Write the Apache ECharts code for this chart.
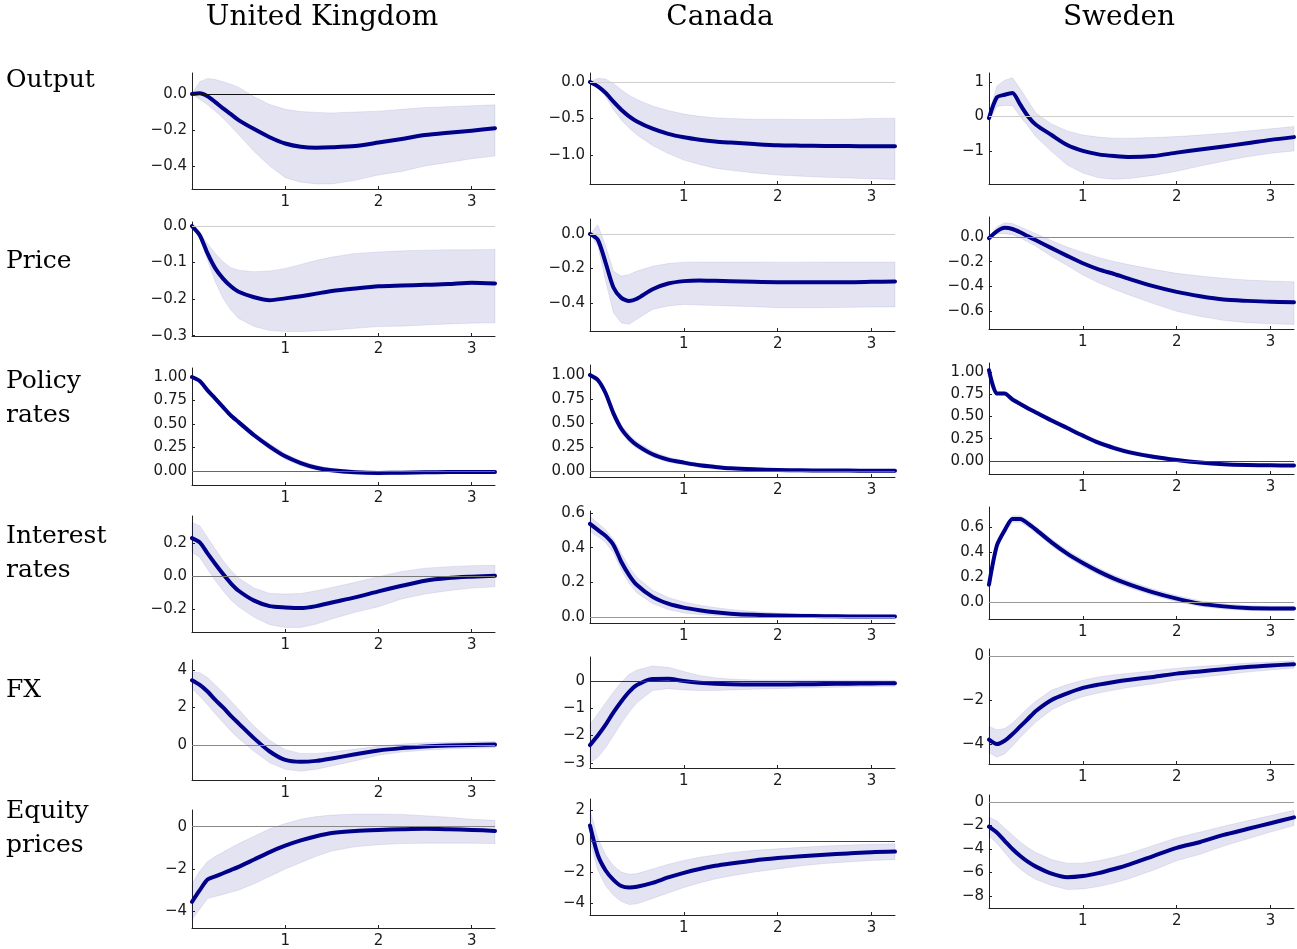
<!DOCTYPE html>
<html>
<head>
<meta charset="utf-8">
<script src="https://cdn.jsdelivr.net/npm/echarts@6/dist/echarts.min.js"></script>
<style>html,body{margin:0;padding:0;background:#fff}#c{width:1297px;height:949px}</style>
</head>
<body>
<div id="c"></div>
<script>
// ---------------- DATA ----------------
const countries = ['United Kingdom', 'Canada', 'Sweden'];
const variables = ['Output', 'Price', 'Policy\nrates', 'Interest\nrates', 'FX', 'Equity\nprices'];
const months = [0, 1, 2, 3, 4, 5, 6, 8, 10, 12, 14, 16, 18, 21, 24, 27, 30, 33, 36, 39];
const xTicks = [1, 2, 3];

// Output
const ukOutMid = [0, 0.005, -0.012, -0.045, -0.08, -0.112, -0.145, -0.195, -0.24, -0.275, -0.293, -0.298, -0.296, -0.289, -0.27, -0.25, -0.228, -0.215, -0.204, -0.19];
const ukOutHi  = [0, 0.069, 0.087, 0.081, 0.068, 0.054, 0.038, -0.015, -0.058, -0.085, -0.097, -0.102, -0.105, -0.1, -0.095, -0.085, -0.075, -0.07, -0.065, -0.06];
const ukOutLo  = [0, -0.03, -0.06, -0.095, -0.135, -0.18, -0.225, -0.32, -0.40, -0.465, -0.49, -0.5, -0.5, -0.48, -0.45, -0.43, -0.4, -0.38, -0.36, -0.345];
const caOutMid = [0, -0.06, -0.15, -0.27, -0.38, -0.47, -0.54, -0.64, -0.71, -0.757, -0.79, -0.815, -0.83, -0.85, -0.867, -0.872, -0.876, -0.878, -0.88, -0.88];
const caOutHi  = [0, 0.05, 0.04, -0.02, -0.105, -0.18, -0.24, -0.33, -0.39, -0.44, -0.47, -0.49, -0.5, -0.51, -0.51, -0.515, -0.515, -0.51, -0.5, -0.495];
const caOutLo  = [0, -0.08, -0.2, -0.38, -0.52, -0.63, -0.725, -0.87, -0.98, -1.07, -1.13, -1.18, -1.21, -1.245, -1.275, -1.29, -1.305, -1.315, -1.325, -1.335];
const seOutMid = [-0.05, 0.55, 0.63, 0.68, 0.34, 0.0, -0.24, -0.54, -0.83, -1.0, -1.1, -1.15, -1.18, -1.15, -1.05, -0.96, -0.87, -0.78, -0.68, -0.6];
const seOutHi  = [0.1, 0.88, 1.05, 1.12, 0.8, 0.45, 0.1, -0.22, -0.42, -0.54, -0.6, -0.63, -0.63, -0.61, -0.585, -0.54, -0.49, -0.42, -0.36, -0.29];
const seOutLo  = [-0.15, 0.29, 0.32, 0.31, 0.0, -0.29, -0.59, -1.02, -1.41, -1.64, -1.78, -1.82, -1.8, -1.71, -1.59, -1.44, -1.3, -1.17, -1.07, -1.0];

// Price
const ukPriMid = [0, -0.025, -0.075, -0.116, -0.144, -0.165, -0.18, -0.195, -0.203, -0.198, -0.192, -0.185, -0.178, -0.171, -0.165, -0.163, -0.161, -0.159, -0.155, -0.157];
const ukPriHi  = [0, -0.02, -0.048, -0.075, -0.098, -0.114, -0.121, -0.125, -0.123, -0.116, -0.105, -0.094, -0.085, -0.075, -0.071, -0.068, -0.066, -0.065, -0.065, -0.064];
const ukPriLo  = [0, -0.035, -0.094, -0.153, -0.198, -0.23, -0.253, -0.275, -0.286, -0.289, -0.289, -0.287, -0.285, -0.28, -0.275, -0.274, -0.271, -0.268, -0.266, -0.265];
const caPriMid = [0, -0.033, -0.167, -0.31, -0.37, -0.388, -0.375, -0.32, -0.287, -0.273, -0.269, -0.271, -0.273, -0.277, -0.279, -0.279, -0.279, -0.279, -0.277, -0.275];
const caPriHi  = [0, 0.054, -0.07, -0.215, -0.244, -0.235, -0.215, -0.187, -0.171, -0.163, -0.162, -0.162, -0.162, -0.162, -0.163, -0.163, -0.162, -0.162, -0.162, -0.162];
const caPriLo  = [0, -0.07, -0.273, -0.456, -0.515, -0.523, -0.494, -0.437, -0.417, -0.408, -0.412, -0.414, -0.417, -0.421, -0.427, -0.427, -0.427, -0.425, -0.423, -0.423];
const sePriMid = [-0.01, 0.046, 0.074, 0.065, 0.038, 0.005, -0.027, -0.09, -0.153, -0.213, -0.262, -0.3, -0.341, -0.398, -0.445, -0.48, -0.507, -0.518, -0.526, -0.529];
const sePriHi  = [0.0, 0.082, 0.115, 0.109, 0.082, 0.055, 0.027, -0.03, -0.082, -0.125, -0.166, -0.199, -0.226, -0.262, -0.295, -0.316, -0.335, -0.349, -0.357, -0.363];
const sePriLo  = [-0.02, 0.027, 0.027, 0.019, -0.008, -0.041, -0.076, -0.158, -0.232, -0.308, -0.371, -0.423, -0.472, -0.54, -0.603, -0.644, -0.676, -0.695, -0.704, -0.709];

// Policy rates
const ukPolMid = [1.0, 0.957, 0.858, 0.77, 0.68, 0.59, 0.52, 0.38, 0.26, 0.156, 0.085, 0.035, 0.007, -0.014, -0.021, -0.018, -0.014, -0.011, -0.011, -0.011];
const ukPolHi  = [1.01, 0.975, 0.88, 0.79, 0.70, 0.615, 0.545, 0.405, 0.29, 0.185, 0.11, 0.058, 0.028, 0.006, -0.002, 0.0, 0.002, 0.004, 0.005, 0.006];
const ukPolLo  = [0.99, 0.94, 0.835, 0.745, 0.655, 0.565, 0.495, 0.355, 0.23, 0.125, 0.055, 0.01, -0.015, -0.035, -0.04, -0.038, -0.033, -0.028, -0.027, -0.027];
const caPolMid = [1.0, 0.948, 0.81, 0.6, 0.44, 0.34, 0.27, 0.174, 0.118, 0.087, 0.059, 0.042, 0.028, 0.017, 0.01, 0.007, 0.005, 0.004, 0.003, 0.003];
const caPolHi  = [1.02, 0.97, 0.84, 0.64, 0.48, 0.38, 0.305, 0.205, 0.145, 0.11, 0.08, 0.06, 0.043, 0.03, 0.02, 0.015, 0.012, 0.01, 0.009, 0.008];
const caPolLo  = [0.98, 0.925, 0.78, 0.56, 0.4, 0.3, 0.235, 0.145, 0.092, 0.065, 0.04, 0.026, 0.015, 0.006, 0.002, 0.0, -0.002, -0.002, -0.002, -0.002];
const sePolMid = [1.02, 0.757, 0.757, 0.69, 0.64, 0.59, 0.545, 0.455, 0.37, 0.285, 0.205, 0.145, 0.097, 0.047, 0.01, -0.018, -0.036, -0.045, -0.049, -0.05];
const sePolHi  = [1.04, 0.775, 0.775, 0.71, 0.66, 0.612, 0.568, 0.48, 0.395, 0.31, 0.23, 0.17, 0.12, 0.068, 0.028, -0.002, -0.022, -0.032, -0.037, -0.038];
const sePolLo  = [1.0, 0.74, 0.74, 0.67, 0.62, 0.568, 0.522, 0.43, 0.345, 0.26, 0.18, 0.12, 0.074, 0.026, -0.008, -0.034, -0.05, -0.058, -0.061, -0.062];

// Interest rates
const ukIntMid = [0.23, 0.204, 0.137, 0.073, 0.012, -0.044, -0.089, -0.149, -0.182, -0.19, -0.194, -0.182, -0.16, -0.129, -0.093, -0.059, -0.028, -0.012, -0.004, 0.002];
const ukIntHi  = [0.325, 0.305, 0.234, 0.164, 0.093, 0.036, -0.012, -0.073, -0.105, -0.109, -0.105, -0.089, -0.069, -0.038, -0.004, 0.028, 0.048, 0.057, 0.063, 0.065];
const ukIntLo  = [0.143, 0.113, 0.042, -0.028, -0.089, -0.145, -0.186, -0.25, -0.295, -0.311, -0.311, -0.291, -0.26, -0.22, -0.186, -0.139, -0.109, -0.089, -0.073, -0.065];
const caIntMid = [0.538, 0.503, 0.468, 0.416, 0.319, 0.242, 0.184, 0.116, 0.077, 0.054, 0.039, 0.027, 0.019, 0.012, 0.008, 0.006, 0.004, 0.003, 0.002, 0.002];
const caIntHi  = [0.58, 0.542, 0.503, 0.449, 0.368, 0.29, 0.228, 0.155, 0.112, 0.087, 0.068, 0.054, 0.043, 0.031, 0.023, 0.019, 0.015, 0.014, 0.012, 0.012];
const caIntLo  = [0.494, 0.464, 0.43, 0.368, 0.271, 0.194, 0.139, 0.077, 0.043, 0.023, 0.014, 0.008, 0.004, 0.001, 0.0, -0.001, -0.001, -0.002, -0.002, -0.002];
const seIntMid = [0.139, 0.45, 0.573, 0.664, 0.664, 0.627, 0.579, 0.477, 0.387, 0.312, 0.245, 0.187, 0.139, 0.077, 0.027, -0.013, -0.035, -0.048, -0.051, -0.051];
const seIntHi  = [0.16, 0.475, 0.6, 0.69, 0.69, 0.655, 0.605, 0.505, 0.415, 0.34, 0.273, 0.215, 0.166, 0.103, 0.052, 0.01, -0.014, -0.028, -0.033, -0.034];
const seIntLo  = [0.12, 0.425, 0.548, 0.638, 0.638, 0.6, 0.552, 0.45, 0.36, 0.285, 0.218, 0.16, 0.113, 0.052, 0.003, -0.035, -0.056, -0.068, -0.07, -0.07];

// FX
const ukFxMid = [3.45, 3.2, 2.85, 2.4, 2.0, 1.55, 1.15, 0.35, -0.35, -0.8, -0.9, -0.85, -0.72, -0.5, -0.3, -0.17, -0.08, -0.03, 0.0, 0.02];
const ukFxHi  = [3.9, 3.85, 3.6, 3.2, 2.8, 2.35, 1.9, 1.0, 0.25, -0.25, -0.45, -0.45, -0.38, -0.22, -0.07, 0.05, 0.12, 0.15, 0.17, 0.18];
const ukFxLo  = [3.0, 2.6, 2.15, 1.65, 1.2, 0.75, 0.35, -0.35, -0.95, -1.3, -1.4, -1.3, -1.12, -0.85, -0.55, -0.38, -0.28, -0.22, -0.18, -0.15];
const caFxMid = [-2.35, -2.0, -1.6, -1.15, -0.75, -0.4, -0.15, 0.07, 0.08, 0.0, -0.06, -0.1, -0.12, -0.13, -0.13, -0.12, -0.11, -0.1, -0.09, -0.08];
const caFxHi  = [-1.6, -1.2, -0.8, -0.4, -0.05, 0.25, 0.4, 0.55, 0.5, 0.35, 0.2, 0.12, 0.07, 0.04, 0.03, 0.03, 0.03, 0.03, 0.03, 0.03];
const caFxLo  = [-3.0, -2.8, -2.45, -2.0, -1.55, -1.15, -0.8, -0.35, -0.28, -0.33, -0.35, -0.35, -0.33, -0.3, -0.28, -0.26, -0.24, -0.22, -0.2, -0.19];
const seFxMid = [-3.8, -4.0, -3.85, -3.55, -3.2, -2.85, -2.5, -2.0, -1.7, -1.45, -1.3, -1.18, -1.08, -0.95, -0.8, -0.7, -0.6, -0.5, -0.43, -0.37];
const seFxHi  = [-3.2, -3.35, -3.3, -3.05, -2.7, -2.35, -2.05, -1.55, -1.3, -1.1, -0.95, -0.85, -0.78, -0.67, -0.55, -0.47, -0.4, -0.32, -0.27, -0.22];
const seFxLo  = [-4.4, -4.6, -4.45, -4.1, -3.7, -3.35, -3.0, -2.45, -2.1, -1.85, -1.68, -1.55, -1.42, -1.27, -1.1, -0.97, -0.85, -0.73, -0.63, -0.55];

// Equity prices
const ukEqMid = [-3.55, -3.0, -2.5, -2.35, -2.2, -2.05, -1.9, -1.55, -1.2, -0.9, -0.65, -0.45, -0.3, -0.2, -0.15, -0.12, -0.1, -0.12, -0.15, -0.2];
const ukEqHi  = [-2.7, -2.1, -1.65, -1.4, -1.2, -1.0, -0.8, -0.45, -0.1, 0.15, 0.35, 0.48, 0.55, 0.6, 0.6, 0.58, 0.52, 0.45, 0.35, 0.3];
const ukEqLo  = [-4.4, -3.9, -3.4, -3.3, -3.2, -3.1, -3.0, -2.7, -2.35, -2.0, -1.7, -1.4, -1.15, -0.95, -0.85, -0.8, -0.78, -0.78, -0.78, -0.8];
const caEqMid = [1.0, -0.9, -1.9, -2.5, -2.9, -3.0, -2.95, -2.7, -2.35, -2.05, -1.8, -1.6, -1.45, -1.25, -1.1, -0.98, -0.88, -0.8, -0.72, -0.68];
const caEqHi  = [2.0, 0.2, -0.9, -1.6, -2.0, -2.15, -2.1, -1.8, -1.5, -1.25, -1.05, -0.9, -0.75, -0.6, -0.5, -0.4, -0.32, -0.26, -0.2, -0.18];
const caEqLo  = [0.0, -1.9, -2.9, -3.5, -3.9, -4.1, -4.05, -3.7, -3.35, -3.0, -2.7, -2.45, -2.25, -2.0, -1.8, -1.6, -1.45, -1.35, -1.25, -1.2];
const seEqMid = [-2.1, -2.6, -3.3, -4.0, -4.6, -5.1, -5.5, -6.1, -6.4, -6.3, -6.05, -5.7, -5.3, -4.6, -3.9, -3.4, -2.8, -2.3, -1.8, -1.3];
const seEqHi  = [-1.3, -1.6, -2.2, -2.8, -3.4, -3.9, -4.3, -4.9, -5.2, -5.2, -5.0, -4.7, -4.35, -3.7, -3.05, -2.55, -2.05, -1.6, -1.15, -0.7];
const seEqLo  = [-2.9, -3.5, -4.3, -5.1, -5.7, -6.2, -6.6, -7.1, -7.45, -7.4, -7.2, -6.9, -6.5, -5.8, -5.0, -4.45, -3.75, -3.15, -2.55, -2.0];

// y tick labels per panel
const ukOutTicks = [-0.4, -0.2, 0.0], caOutTicks = [-1.0, -0.5, 0.0], seOutTicks = [-1, 0, 1];
const ukPriTicks = [-0.3, -0.2, -0.1, 0.0], caPriTicks = [-0.4, -0.2, 0.0], sePriTicks = [-0.6, -0.4, -0.2, 0.0];
const polTicks = [0, 0.25, 0.5, 0.75, 1.0];
const ukIntTicks = [-0.2, 0.0, 0.2], caIntTicks = [0.0, 0.2, 0.4, 0.6], seIntTicks = [0.0, 0.2, 0.4, 0.6];
const ukFxTicks = [0, 2, 4], caFxTicks = [-3, -2, -1, 0], seFxTicks = [-4, -2, 0];
const ukEqTicks = [-4, -2, 0], caEqTicks = [-4, -2, 0, 2], seEqTicks = [-8, -6, -4, -2, 0];

// ---------------- LAYOUT / STYLE ----------------
const years = months.map(m => m / 12);
const colLeft = [192, 590, 989];
const colWidth = [303, 305, 305];
const rowBounds = [
  [[73, 189], [73, 184], [73, 184]],
  [[222, 336], [219, 331], [217, 329]],
  [[368, 485], [365, 477], [363, 474]],
  [[516, 632], [511, 623], [507, 619]],
  [[660, 780], [657, 768], [649, 764]],
  [[810, 930], [799, 915], [795, 908]]
];
// [mid, hi, lo, ticks, decimals, ymin, ymax, zeroColor]
const panels = [
  [[ukOutMid, ukOutHi, ukOutLo, ukOutTicks, 1, -0.528, 0.117, '#111'],
   [caOutMid, caOutHi, caOutLo, caOutTicks, 1, -1.397, 0.123, '#cfcfcf'],
   [seOutMid, seOutHi, seOutLo, seOutTicks, 0, -1.96, 1.26, '#cfcfcf']],
  [[ukPriMid, ukPriHi, ukPriLo, ukPriTicks, 1, -0.301, 0.011, '#cfcfcf'],
   [caPriMid, caPriHi, caPriLo, caPriTicks, 1, -0.562, 0.087, '#cfcfcf'],
   [sePriMid, sePriHi, sePriLo, sePriTicks, 1, -0.746, 0.162, '#888']],
  [[ukPolMid, ukPolHi, ukPolLo, polTicks, 2, -0.149, 1.096, '#666'],
   [caPolMid, caPolHi, caPolLo, polTicks, 2, -0.0625, 1.104, '#666'],
   [sePolMid, sePolHi, sePolLo, polTicks, 2, -0.146, 1.10, '#444']],
  [[ukIntMid, ukIntHi, ukIntLo, ukIntTicks, 1, -0.339, 0.364, '#777'],
   [caIntMid, caIntHi, caIntLo, caIntTicks, 1, -0.035, 0.612, '#999'],
   [seIntMid, seIntHi, seIntLo, seIntTicks, 1, -0.136, 0.76, '#999']],
  [[ukFxMid, ukFxHi, ukFxLo, ukFxTicks, 0, -1.87, 4.53, '#888'],
   [caFxMid, caFxHi, caFxLo, caFxTicks, 0, -3.19, 0.88, '#333'],
   [seFxMid, seFxHi, seFxLo, seFxTicks, 0, -4.91, 0.32, '#999']],
  [[ukEqMid, ukEqHi, ukEqLo, ukEqTicks, 0, -4.79, 0.79, '#888'],
   [caEqMid, caEqHi, caEqLo, caEqTicks, 0, -4.77, 2.71, '#444'],
   [seEqMid, seEqHi, seEqLo, seEqTicks, 0, -9.02, 0.6, '#999']]
];

const fmt = (v, d) => v.toFixed(d).replace('-', '\u2212');
const grids = [], xAxes = [], yAxes = [], series = [];
let k = 0;
panels.forEach((row, r) => {
  row.forEach((p, c) => {
    const [mid, hi, lo, ticks, dec, ymin, ymax, zc] = p;
    const [top, bot] = rowBounds[r][c];
    grids.push({ left: colLeft[c], top: top, width: colWidth[c], height: bot - top });
    xAxes.push({
      type: 'value', gridIndex: k, min: 0, max: 3.25,
      axisLine: { show: true, onZero: false, lineStyle: { color: '#222', width: 1 } },
      axisTick: { show: true, inside: true, length: 3, customValues: xTicks, lineStyle: { color: '#222' } },
      axisLabel: { customValues: xTicks, formatter: v => String(Math.round(v)), fontFamily: 'DejaVu Sans', fontSize: 15, color: '#1a1a1a', margin: 6 },
      splitLine: { show: false }
    });
    yAxes.push({
      type: 'value', gridIndex: k, min: ymin, max: ymax,
      axisLine: { show: true, onZero: false, lineStyle: { color: '#222', width: 1 } },
      axisTick: { show: true, inside: true, length: 3, customValues: ticks, lineStyle: { color: '#222' } },
      axisLabel: { customValues: ticks, formatter: v => fmt(v, dec), fontFamily: 'DejaVu Sans', fontSize: 15, color: '#1a1a1a', margin: 5 },
      splitLine: { show: false }
    });
    series.push({
      type: 'custom', xAxisIndex: k, yAxisIndex: k, silent: true, z: 1,
      data: [[0, 0]],
      renderItem: (params, api) => {
        const pts = [];
        for (let i = 0; i < years.length; i++) pts.push(api.coord([years[i], hi[i]]));
        for (let i = years.length - 1; i >= 0; i--) pts.push(api.coord([years[i], lo[i]]));
        return { type: 'polygon', shape: { points: pts }, style: { fill: 'rgba(0,0,139,0.11)', stroke: 'rgba(0,0,139,0.08)', lineWidth: 1 } };
      }
    });
    series.push({
      type: 'line', xAxisIndex: k, yAxisIndex: k, z: 3,
      data: years.map((x, i) => [x, mid[i]]),
      symbol: 'none', showSymbol: false, smooth: 0.25,
      lineStyle: { color: '#00008B', width: 4, join: 'round', cap: 'round' },
      markLine: {
        silent: true, symbol: ['none', 'none'], label: { show: false },
        lineStyle: { color: zc, width: 1, type: 'solid' }, emphasis: { disabled: true },
        data: [{ yAxis: 0 }]
      }
    });
    k++;
  });
});

const colCenters = [322, 720, 1119];
const rowLabelY = [80, 261, 398.5, 553, 690, 828];
const graphic = [];
countries.forEach((t, i) => graphic.push({
  type: 'text', x: colCenters[i], y: 18,
  style: { text: t, fontFamily: 'DejaVu Serif', fontSize: 28, fill: '#000', align: 'center', verticalAlign: 'middle' }
}));
variables.forEach((t, i) => graphic.push({
  type: 'text', x: 6, y: rowLabelY[i],
  style: { text: t, fontFamily: 'DejaVu Serif', fontSize: 25, lineHeight: 34, fill: '#000', align: 'left', verticalAlign: 'middle' }
}));

const chart = echarts.init(document.getElementById('c'), null, { renderer: 'canvas' });
chart.setOption({
  animation: false,
  backgroundColor: '#fff',
  grid: grids, xAxis: xAxes, yAxis: yAxes, series: series, graphic: graphic
});
</script>
</body>
</html>
